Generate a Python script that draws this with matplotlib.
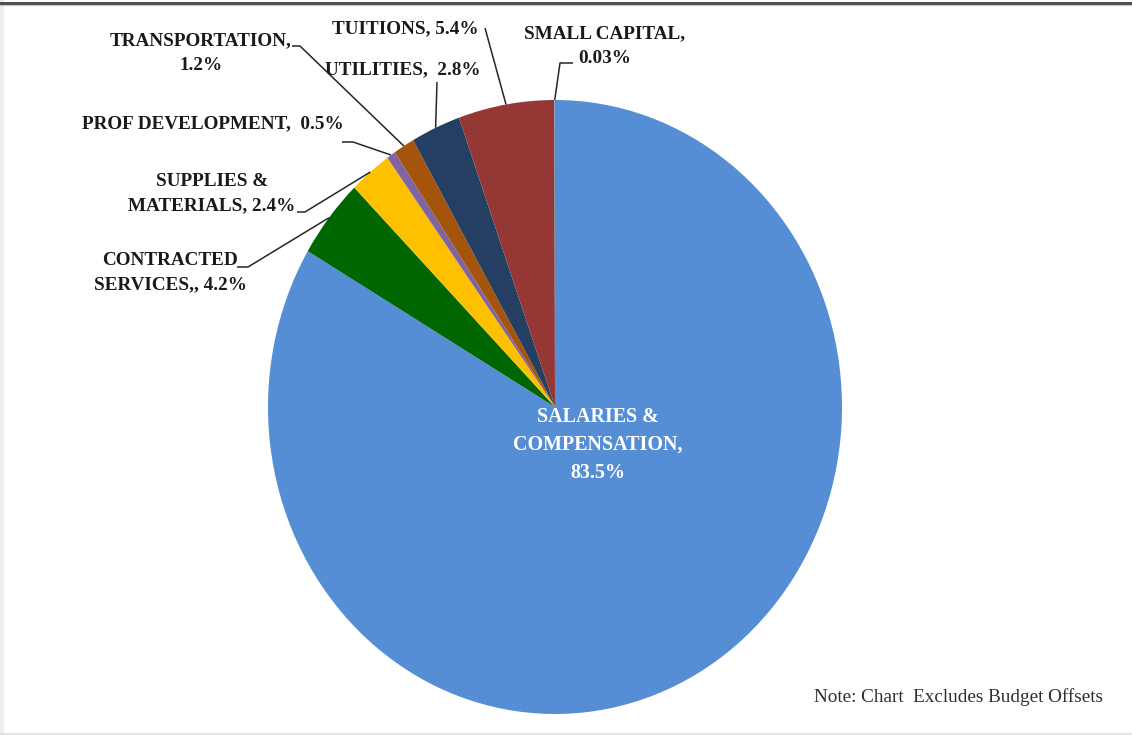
import numpy as np
import matplotlib.pyplot as plt

# budget share by expense category (percent)
categories = ['SALARIES & COMPENSATION', 'CONTRACTED SERVICES', 'SUPPLIES & MATERIALS',
              'PROF DEVELOPMENT', 'TRANSPORTATION', 'UTILITIES', 'TUITIONS', 'SMALL CAPITAL']
values = [83.5, 4.2, 2.4, 0.5, 1.2, 2.8, 5.4, 0.03]
label_fmt = ['SALARIES &\nCOMPENSATION,\n{}', 'CONTRACTED\nSERVICES,, {}', 'SUPPLIES &\nMATERIALS, {}',
             'PROF DEVELOPMENT,  {}', 'TRANSPORTATION,\n{}', 'UTILITIES,  {}', 'TUITIONS, {}',
             'SMALL CAPITAL,\n{}']
colors = ['#558ed5', '#006600', '#ffc000', '#8064a2', '#a5540b', '#243f62', '#943735', '#4bacc6']
note = 'Note: Chart  Excludes Budget Offsets'

W, H = 1132, 735
fig = plt.figure(figsize=(W / 100, H / 100), dpi=100)
fig.patch.set_facecolor('white')

# pie drawn in its own axes so it can be a little taller than wide
left, right, top, bottom = 268, 842, 100, 714
pie_ax = fig.add_axes([left / W, 1 - bottom / H, (right - left) / W, (bottom - top) / H])
wedges, _ = pie_ax.pie(values, colors=colors, startangle=90, counterclock=False,
                       wedgeprops=dict(linewidth=0))
pie_ax.set_xlim(-1, 1)
pie_ax.set_ylim(-1, 1)
pie_ax.set_aspect('auto')
pie_ax.axis('off')

# overlay in pixel units (y down) for labels, leaders and frame bits
ov = fig.add_axes([0, 0, 1, 1], zorder=3)
ov.set_xlim(0, W)
ov.set_ylim(H, 0)
ov.patch.set_alpha(0)
ov.axis('off')

def edge_px(w):
    a = np.deg2rad((w.theta1 + w.theta2) / 2)
    p = pie_ax.transData.transform((np.cos(a), np.sin(a)))
    return ov.transData.inverted().transform(p)

font = dict(family=['Liberation Serif', 'DejaVu Serif'], fontweight='bold')

# label centre (px) and leader start / elbow points
label_pos = [(598, 445), (170, 273), (212, 194), (213, 124), (201, 53),
             (403, 70), (405, 29), (605, 46)]
leaders = [None,
           [(237, 267), (248, 267)],
           [(297, 212), (305, 212)],
           [(342, 142), (353, 142)],
           [(292, 46), (300, 46)],
           [(437, 82)],
           [(485, 28)],
           [(573, 63), (560, 63)]]

for i, (w, v) in enumerate(zip(wedges, values)):
    txt = label_fmt[i].format(f'{v:g}%')
    x, y = label_pos[i]
    if i == 0:
        ov.text(x, y, txt, ha='center', va='center', ma='center', color='white',
                linespacing=1.55, fontsize=14.4, **font, zorder=5)
    else:
        ov.text(x, y, txt, ha='center', va='center', ma='center', color='#1a1a1a',
                linespacing=1.55, fontsize=13.8, **font, zorder=5)
    if leaders[i]:
        pts = list(leaders[i]) + [tuple(edge_px(w))]
        xs, ys = zip(*pts)
        ov.plot(xs, ys, color='#262626', lw=1.1, zorder=4, solid_capstyle='butt')

ov.text(1103, 697, note, ha='right', va='center', color='#2e2e2e',
        family=['Liberation Serif', 'DejaVu Serif'], fontsize=13.8)

# frame: dark rule on top, faint strip on left, light rule at bottom
ov.plot([0, W], [3, 3], color='#505050', lw=2.2)
ov.plot([0, W], [4.8, 4.8], color='#c8c8c8', lw=0.8)
ov.fill_between([0, 3.5], 0, H, color='#efede7', lw=0)
ov.plot([0, W], [733.5, 733.5], color='#dedede', lw=1.2)

fig.savefig('out.png', dpi=100)
